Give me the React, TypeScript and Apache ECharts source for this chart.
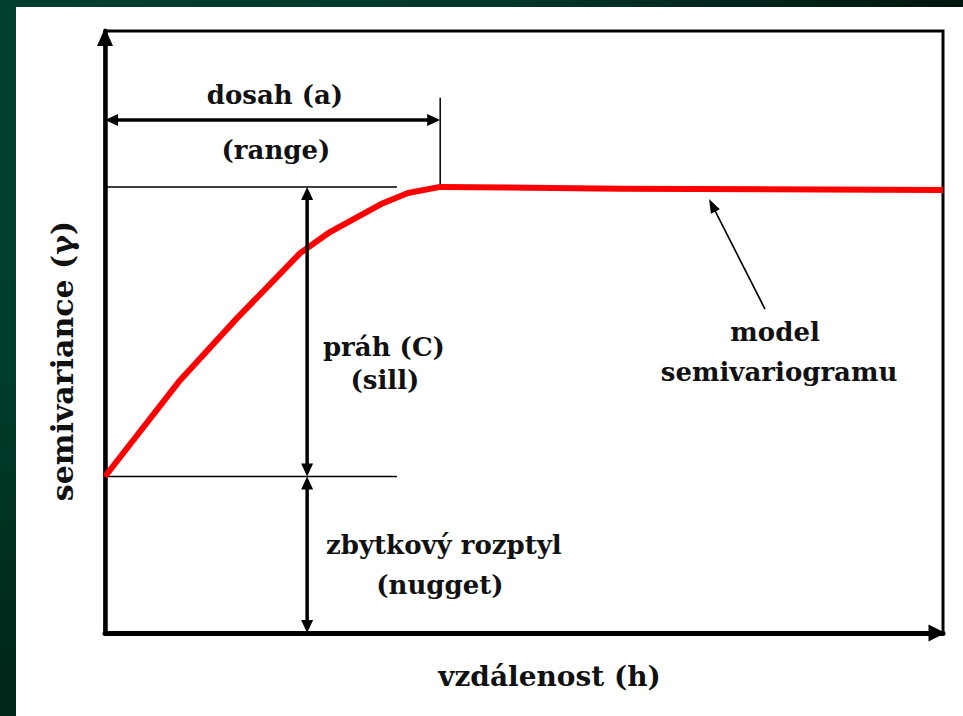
import React, { useEffect, useRef } from "react";
import * as echarts from "echarts";

// ---- data ----
const distances = [0, 2.24, 3.94, 5.82, 6.71, 8.29, 9.04, 10, 15.36, 25];
const semivariance = [2.6, 4.2, 5.23, 6.31, 6.66, 7.14, 7.31, 7.41, 7.38, 7.36];

const xAxisMax = 25;
const yAxisMax = 10;
const rangeA = 10;
const nuggetC0 = 2.6;
const sillC = 7.41;

// double-headed dimension arrows [x1, y1, x2, y2]
const dimensionArrows = [
  [0, 8.52, rangeA, 8.52],
  [6.03, nuggetC0, 6.03, sillC],
  [6.03, 0, 6.03, nuggetC0],
];
// thin guide lines [x1, y1, x2, y2]
const guideLines = [
  [0, sillC, 8.71, sillC],
  [0, nuggetC0, 8.71, nuggetC0],
  [rangeA, sillC, rangeA, 8.89],
];
// pointer arrow (head at second point)
const pointerArrows = [[19.69, 5.38, 18.02, 7.21]];

const labelTexts = [
  "dosah (a)",
  "(range)",
  "práh (C)",
  "(sill)",
  "zbytkový rozptyl",
  "(nugget)",
  "model",
  "semivariogramu",
];
const labelX = [5.07, 5.1, 8.32, 8.35, 10.11, 9.99, 19.99, 20.11];
const labelY = [8.94, 8.02, 4.75, 4.2, 1.46, 0.8, 5.0, 4.34];

const xAxisName = "vzdálenost (h)";
const yAxisName = "semivariance (γ)";

const FONT = '"DejaVu Serif", "Liberation Serif", serif';

function headPoints(tip: number[], tail: number[], len: number, half: number) {
  const dx = tip[0] - tail[0];
  const dy = tip[1] - tail[1];
  const d = Math.hypot(dx, dy) || 1;
  const ux = dx / d;
  const uy = dy / d;
  const bx = tip[0] - ux * len;
  const by = tip[1] - uy * len;
  return [
    [tip[0], tip[1]],
    [bx - uy * half, by + ux * half],
    [bx + uy * half, by - ux * half],
  ];
}

function makeArrowRenderer(o: {
  lineWidth: number;
  headLen: number;
  headHalf: number;
  startHead: boolean;
  endHead: boolean;
}) {
  return (params: any, api: any) => {
    const p1 = api.coord([api.value(0), api.value(1)]);
    const p2 = api.coord([api.value(2), api.value(3)]);
    const dx = p2[0] - p1[0];
    const dy = p2[1] - p1[1];
    const d = Math.hypot(dx, dy) || 1;
    const ux = dx / d;
    const uy = dy / d;
    const s = o.startHead ? o.headLen * 0.6 : 0;
    const e = o.endHead ? o.headLen * 0.6 : 0;
    const children: any[] = [
      {
        type: "line",
        shape: {
          x1: p1[0] + ux * s,
          y1: p1[1] + uy * s,
          x2: p2[0] - ux * e,
          y2: p2[1] - uy * e,
        },
        style: { stroke: "#000", lineWidth: o.lineWidth },
      },
    ];
    if (o.startHead) {
      children.push({
        type: "polygon",
        shape: { points: headPoints(p1, p2, o.headLen, o.headHalf) },
        style: { fill: "#000" },
      });
    }
    if (o.endHead) {
      children.push({
        type: "polygon",
        shape: { points: headPoints(p2, p1, o.headLen, o.headHalf) },
        style: { fill: "#000" },
      });
    }
    return { type: "group", children };
  };
}

export default function App() {
  const ref = useRef<HTMLDivElement>(null);

  useEffect(() => {
    if (!ref.current) return;
    const chart = echarts.init(ref.current, undefined, { renderer: "svg" });

    const option: any = {
      animation: false,
      backgroundColor: "transparent",
      graphic: [
        {
          type: "rect",
          z: -100,
          shape: { x: 0, y: 0, width: 963, height: 716 },
          style: { fill: "#00301f" },
        },
        {
          type: "rect",
          z: -99,
          shape: { x: 0, y: 0, width: 963, height: 8 },
          style: {
            fill: new echarts.graphic.LinearGradient(0, 0, 1, 0, [
              { offset: 0, color: "#003f2e" },
              { offset: 0.5, color: "#00382a" },
              { offset: 1, color: "#001510" },
            ]),
          },
        },
        {
          type: "rect",
          z: -99,
          shape: { x: 0, y: 0, width: 16, height: 716 },
          style: {
            fill: new echarts.graphic.LinearGradient(0, 0, 0, 1, [
              { offset: 0, color: "#003f2e" },
              { offset: 0.5, color: "#003d2c" },
              { offset: 1, color: "#00251a" },
            ]),
          },
        },
        {
          type: "rect",
          z: -98,
          shape: { x: 16, y: 7, width: 947, height: 709 },
          style: { fill: "#ffffff" },
        },
      ],
      grid: {
        left: 105,
        right: 20,
        top: 31,
        bottom: 83,
        show: true,
        borderColor: "#000",
        borderWidth: 3,
        backgroundColor: "transparent",
        containLabel: false,
        outerBoundsMode: "none",
      },
      xAxis: {
        type: "value",
        min: 0,
        max: xAxisMax,
        axisLine: {
          show: true,
          onZero: false,
          lineStyle: { color: "#000", width: 5 },
          symbol: ["none", "triangle"],
          symbolSize: [17, 17],
          symbolOffset: [0, -6],
        },
        axisTick: { show: false },
        axisLabel: { show: false },
        splitLine: { show: false },
        name: xAxisName,
        nameLocation: "middle",
        nameGap: 29,
        nameTextStyle: {
          fontFamily: FONT,
          fontWeight: "bold",
          fontSize: 28,
          color: "#111",
          padding: [0, 0, 0, 51],
        },
      },
      yAxis: {
        type: "value",
        min: 0,
        max: yAxisMax,
        axisLine: {
          show: true,
          onZero: false,
          lineStyle: { color: "#000", width: 4.5 },
          symbol: ["none", "triangle"],
          symbolSize: [16, 18],
          symbolOffset: [0, -6],
        },
        axisTick: { show: false },
        axisLabel: { show: false },
        splitLine: { show: false },
        name: yAxisName,
        nameLocation: "middle",
        nameRotate: 90,
        nameGap: 28,
        nameTextStyle: {
          fontFamily: FONT,
          fontWeight: "bold",
          fontSize: 30,
          color: "#111",
          padding: [0, 58, 0, 0],
        },
      },
      series: [
        {
          type: "custom",
          name: "guides",
          z: 3,
          renderItem: (params: any, api: any) => {
            const p1 = api.coord([api.value(0), api.value(1)]);
            const p2 = api.coord([api.value(2), api.value(3)]);
            return {
              type: "line",
              shape: { x1: p1[0], y1: p1[1], x2: p2[0], y2: p2[1] },
              style: { stroke: "#000", lineWidth: 1.5 },
            };
          },
          data: guideLines,
        },
        {
          type: "line",
          name: "model semivariogramu",
          data: distances.map((d, i) => [d, semivariance[i]]),
          showSymbol: false,
          symbol: "none",
          clip: false,
          z: 4,
          lineStyle: { color: "#ff0000", width: 6, cap: "butt", join: "round" },
        },
        {
          type: "custom",
          name: "dimensions",
          z: 5,
          renderItem: makeArrowRenderer({
            lineWidth: 3.5,
            headLen: 13,
            headHalf: 6,
            startHead: true,
            endHead: true,
          }),
          data: dimensionArrows,
        },
        {
          type: "custom",
          name: "pointer",
          z: 5,
          renderItem: makeArrowRenderer({
            lineWidth: 1.6,
            headLen: 14,
            headHalf: 5,
            startHead: false,
            endHead: true,
          }),
          data: pointerArrows,
        },
        {
          type: "custom",
          name: "labels",
          z: 6,
          renderItem: (params: any, api: any) => {
            const p = api.coord([api.value(0), api.value(1)]);
            return {
              type: "text",
              x: p[0],
              y: p[1],
              style: {
                text: labelTexts[params.dataIndex],
                fill: "#111",
                font: `bold 26px ${FONT}`,
                align: "center",
                verticalAlign: "middle",
              },
            };
          },
          data: labelX.map((x, i) => [x, labelY[i]]),
        },
      ],
    };

    chart.setOption(option);
    return () => chart.dispose();
  }, []);

  return (
    <div
      ref={ref}
      style={{ position: "absolute", left: 0, top: 0, width: 963, height: 716 }}
    />
  );
}
